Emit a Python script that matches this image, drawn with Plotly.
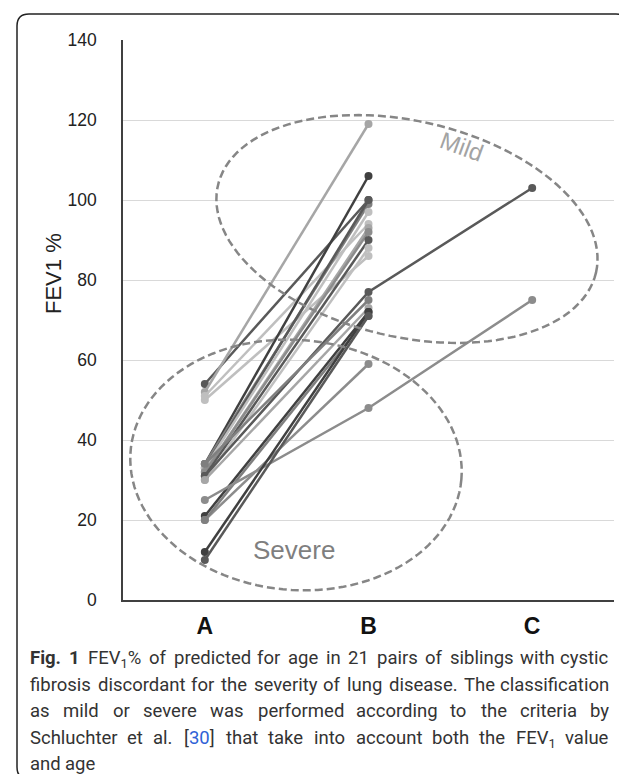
import re
import numpy as np
import plotly.graph_objects as go

# ---------------- data ----------------
categories = ["A", "B", "C"]
y_ticks = [0, 20, 40, 60, 80, 100, 120, 140]

# FEV1 % per family (sibling A = severe, sibling B = mild, C = third sibling if any)
sib_A = [54, 52, 51, 50, 34, 34, 33, 33, 32, 32, 31, 30, 31, 34, 30, 21, 20, 20, 25, 12, 10]
sib_B = [100, 119, 94, 86, 106, 99, 100, 97, 93, 92, 90, 88, 77, 75, 73, 72, 59, 71, 48, 72, 71]
sib_C = [None, None, None, None, None, None, None, None, None, None, None, None, 103, None, None, None, None, None, 75, None, None]
line_colors = ["#595959", "#a6a6a6", "#bfbfbf", "#bfbfbf", "#404040", "#7f7f7f", "#595959",
               "#bfbfbf", "#a6a6a6", "#8c8c8c", "#595959", "#bfbfbf", "#595959", "#7f7f7f",
               "#a6a6a6", "#404040", "#8c8c8c", "#7f7f7f", "#8c8c8c", "#404040", "#595959"]

caption_lines = [
    ["<b>Fig.</b>", "<b>1</b>", "FEV<sub>1</sub>%", "of", "predicted", "for", "age", "in", "21",
     "pairs", "of", "siblings", "with", "cystic"],
    ["fibrosis", "discordant", "for", "the", "severity", "of", "lung", "disease.", "The", "classification"],
    ["as", "mild", "or", "severe", "was", "performed", "according", "to", "the", "criteria", "by"],
    ["Schluchter", "et", "al.", "[<span style='color:#2f62d6'>30</span>]", "that", "take", "into",
     "account", "both", "the", "FEV<sub>1</sub>", "value"],
    ["and", "age"],
]

# ---------------- layout geometry ----------------
W, H = 627, 774
PL, PR, PT, PB = 115, 606, 32, 592
PXX = (PR - PL) / 3.0
PXY = (PB - PT) / 140.0

def px_to_paper(px, py):
    return (px - PL) / (PR - PL), (PB - py) / (PB - PT)

fig = go.Figure()
pos = {c: i for i, c in enumerate(categories)}
for a, b, c, col in zip(sib_A, sib_B, sib_C, line_colors):
    xs = [pos["A"], pos["B"]]
    ys = [a, b]
    if c is not None:
        xs.append(pos["C"])
        ys.append(c)
    fig.add_trace(go.Scatter(x=xs, y=ys, mode="lines+markers",
                             line=dict(color=col, width=2.5),
                             marker=dict(color=col, size=8),
                             showlegend=False, hoverinfo="skip"))

def ellipse_path(cx, cy, a, b, theta_deg, n=120):
    th = np.radians(theta_deg)
    t = np.linspace(0, 2 * np.pi, n)
    dx = a * np.cos(t) * np.cos(th) - b * np.sin(t) * np.sin(th)
    dy = a * np.cos(t) * np.sin(th) + b * np.sin(t) * np.cos(th)
    xs = cx + dx / PXX
    ys = cy - dy / PXY
    return "M " + " L ".join(f"{x:.4f},{y:.3f}" for x, y in zip(xs, ys)) + " Z"

shapes = []
for (cx, cy, a, b, th) in [(1.235, 92.75, 194, 108, 13), (0.557, 33.75, 166, 125, 5)]:
    shapes.append(dict(type="path", xref="x", yref="y", path=ellipse_path(cx, cy, a, b, th),
                       line=dict(color="#868686", width=2.5, dash="8px,4px"), layer="above"))

# rounded frame
x0, y0 = px_to_paper(9, 6)
x1, y1 = px_to_paper(620, 771)
rx, ry = 12 / (PR - PL), 12 / (PB - PT)
frame = (f"M {x0+rx},{y0} L {x1-rx},{y0} Q {x1},{y0} {x1},{y0-ry} L {x1},{y1+ry} "
         f"Q {x1},{y1} {x1-rx},{y1} L {x0+rx},{y1} Q {x0},{y1} {x0},{y1+ry} "
         f"L {x0},{y0-ry} Q {x0},{y0} {x0+rx},{y0} Z")
shapes.append(dict(type="path", xref="paper", yref="paper", path=frame,
                   line=dict(color="#222222", width=1.5)))

annotations = [
    dict(x=1.57, y=113.5, xref="x", yref="y", text="Mild", showarrow=False, textangle=20,
         xanchor="center", yanchor="middle",
         font=dict(family="Liberation Sans", size=24, color="#a3a3a3")),
    dict(x=0.545, y=12.5, xref="x", yref="y", text="Severe", showarrow=False,
         xanchor="center", yanchor="middle",
         font=dict(family="Liberation Sans", size=26, color="#7f7f7f")),
]
tx, ty = px_to_paper(45, 266)
annotations.append(dict(x=tx, y=ty, xref="paper", yref="paper", text="FEV1 %", showarrow=False,
                        textangle=-90, xanchor="center", yanchor="middle",
                        font=dict(family="Liberation Sans", size=22, color="#222222")))

# --- justified caption (approximate Roboto advance widths, units of 1/2048 em) ---
RW = dict(zip("abcdefghijklmnopqrstuvwxyz",
              [1089, 1120, 1045, 1126, 1058, 696, 1122, 1101, 485, 477, 1011, 485, 1750, 1103,
               1139, 1120, 1134, 677, 1031, 653, 1102, 968, 1502, 991, 946, 991]))
RW.update(dict(zip("ABCDEFGHIJKLMNOPQRSTUVWXYZ",
                   [1336, 1275, 1333, 1343, 1164, 1132, 1395, 1461, 557, 1131, 1285, 1100, 1787,
                    1461, 1410, 1292, 1410, 1261, 1217, 1222, 1329, 1303, 1817, 1286, 1230, 1227])))
RW.update({d: 1150 for d in "0123456789"})
RW.update({".": 539, ",": 402, "%": 1465, "[": 544, "]": 544, " ": 507})

def est_width(html, size):
    w, bold, sub = 0.0, False, False
    for tok in re.split(r"(<[^>]+>)", html):
        if tok.startswith("<"):
            t = tok.lower()
            if t.startswith("<b"):
                bold = True
            elif t.startswith("</b"):
                bold = False
            elif t.startswith("<sub"):
                sub = True
            elif t.startswith("</sub"):
                sub = False
            continue
        for ch in tok:
            f = (1.04 if bold else 1.0) * (0.7 if sub else 1.0)
            w += RW.get(ch, 1100) / 2048 * size * f
    return w

CAP_SIZE = 18.5
CAP_LEFT, CAP_RIGHT = 22, 601
for i, words in enumerate(caption_lines):
    top = 639 + i * 26.5
    widths = [est_width(wd, CAP_SIZE) for wd in words]
    last = i == len(caption_lines) - 1
    if last or len(words) == 1:
        gap = RW[" "] / 2048 * CAP_SIZE
    else:
        gap = (CAP_RIGHT - CAP_LEFT - sum(widths)) / (len(words) - 1)
    xcur = CAP_LEFT
    for j, (wd, ww) in enumerate(zip(words, widths)):
        if not last and j == len(words) - 1 and j > 0:
            px_, anchor = CAP_RIGHT, "right"
        else:
            px_, anchor = xcur, "left"
        ax, ay = px_to_paper(px_, top)
        annotations.append(dict(x=ax, y=ay, xref="paper", yref="paper", text=wd, showarrow=False,
                                xanchor=anchor, yanchor="top", borderpad=0, borderwidth=0,
                                font=dict(family="Roboto", size=CAP_SIZE, color="#333333")))
        xcur += ww + gap

fig.update_layout(
    width=W, height=H,
    margin=dict(l=PL, r=W - PR, t=PT, b=H - PB, pad=0),
    paper_bgcolor="white", plot_bgcolor="white",
    shapes=shapes, annotations=annotations,
    xaxis=dict(range=[-0.5, 2.5], tickvals=[pos[c] for c in categories], ticktext=categories,
               showgrid=False, zeroline=False, showline=True, linecolor="#404040", linewidth=1.5,
               ticks="", ticklabelstandoff=5,
               tickfont=dict(family="Liberation Sans", size=23, color="#111111", weight="bold")),
    yaxis=dict(range=[0, 140], tickvals=y_ticks, showgrid=True, gridcolor="#d9d9d9", gridwidth=1,
               zeroline=False, showline=True, linecolor="#404040", linewidth=1.5, ticks="",
               ticklabelstandoff=21,
               tickfont=dict(family="Liberation Sans", size=17.5, color="#222222")),
)

fig.write_html("out.html")
